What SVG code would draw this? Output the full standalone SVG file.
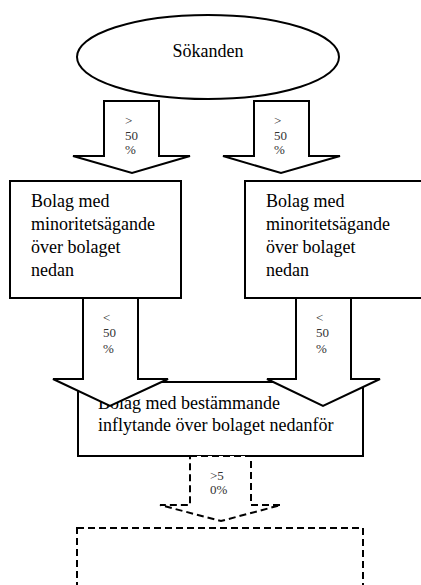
<svg xmlns="http://www.w3.org/2000/svg" width="421" height="585" viewBox="0 0 421 585">
<style>
.s{fill:#fff;stroke:#000;stroke-width:2}
.d{fill:#fff;stroke:#000;stroke-width:2;stroke-dasharray:7 4}
.t{font-family:"Liberation Serif","Times New Roman",serif;font-size:18px;fill:#000}
.m{font-family:"Liberation Serif","Times New Roman",serif;font-size:13px;fill:#333}
</style>
<rect x="0" y="0" width="421" height="585" fill="#fff"/>
<g id="sokanden">
<ellipse class="s" cx="208" cy="57" rx="131" ry="42"/>
<text class="t" x="208" y="57" text-anchor="middle">Sökanden</text>
</g>
<g id="bolag-minoritet-vanster">
<rect class="s" x="10" y="181" width="171" height="117"/>
<text class="t" x="31" y="207">Bolag med</text>
<text class="t" x="31" y="230">minoritetsägande</text>
<text class="t" x="31" y="253">över bolaget</text>
<text class="t" x="31" y="276">nedan</text>
</g>
<g id="bolag-minoritet-hoger">
<rect class="s" x="245" y="181" width="180" height="117"/>
<text class="t" x="266" y="207">Bolag med</text>
<text class="t" x="266" y="230">minoritetsägande</text>
<text class="t" x="266" y="253">över bolaget</text>
<text class="t" x="266" y="276">nedan</text>
</g>
<g id="bolag-bestammande">
<rect class="s" x="78" y="382" width="285" height="74"/>
<text class="t" x="98" y="409">Bolag med bestämmande</text>
<text class="t" x="98" y="431">inflytande över bolaget nedanför</text>
</g>
<g id="okant-bolag">
<rect class="d" x="77" y="528" width="286" height="80"/>
</g>
<g id="connectors">
<path class="s" d="M104,101 H159 V156 H190 L132,173 L73,156 H104 Z"/>
<text class="m" x="125" y="125">&gt;</text>
<text class="m" x="125" y="139.5">50</text>
<text class="m" x="125" y="154">%</text>
<path class="s" d="M254,101 H309 V156 H340 L281,173 L223,156 H254 Z"/>
<text class="m" x="274" y="125">&gt;</text>
<text class="m" x="274" y="139.5">50</text>
<text class="m" x="274" y="154">%</text>
<path class="s" d="M83,298 H138 V379 H168 L110,406 L53,379 H83 Z"/>
<text class="m" x="103" y="322">&lt;</text>
<text class="m" x="103" y="337">50</text>
<text class="m" x="103" y="353">%</text>
<path class="s" d="M296,298 H351 V379 H380 L323,406 L267,379 H296 Z"/>
<text class="m" x="316" y="322">&lt;</text>
<text class="m" x="316" y="337">50</text>
<text class="m" x="316" y="353">%</text>
<path class="d" d="M190,456 H251 V505 H281 L221,521 L160,505 H190 Z"/>
<text class="m" x="210" y="480" font-size="12">&gt;5</text>
<text class="m" x="210" y="494" font-size="12">0%</text>
</g>
</svg>
